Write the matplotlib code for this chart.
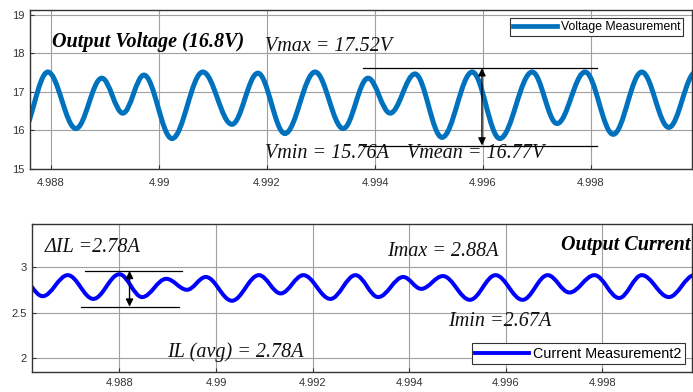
import matplotlib
matplotlib.use("Agg")
import matplotlib.pyplot as plt
from matplotlib.path import Path
from matplotlib.patches import PathPatch
from matplotlib.lines import Line2D

# ---- data: extrema of the voltage waveform (time s, volts) ----
v_time = [4.98744, 4.98794, 4.98846, 4.98894, 4.98933, 4.98972, 4.99024, 4.99081,
          4.99135, 4.99183, 4.99233, 4.99289, 4.99341, 4.99387, 4.99428, 4.99474,
          4.99524, 4.99580, 4.99631, 4.99691, 4.99737, 4.99789, 4.99841, 4.99894,
          4.99944, 4.99994]
v_vals = [15.90, 17.52, 16.05, 17.36, 16.45, 17.44, 15.79, 17.52,
          16.16, 17.49, 15.92, 17.52, 16.05, 17.36, 16.45, 17.47,
          15.82, 17.52, 15.79, 17.52, 16.18, 17.52, 15.90, 17.52,
          16.08, 17.52]

# ---- data: extrema of the current waveform (time s, amps) ----
i_time = [4.98594, 4.98641, 4.98693, 4.98746, 4.98800, 4.98847, 4.98897, 4.98940,
          4.98979, 4.99033, 4.99089, 4.99134, 4.99181, 4.99237, 4.99289, 4.99336,
          4.99388, 4.99425, 4.99470, 4.99526, 4.99579, 4.99635, 4.99687, 4.99732,
          4.99784, 4.99835, 4.99882, 4.99938, 4.99991]
i_vals = [2.90, 2.68, 2.91, 2.65, 2.92, 2.67, 2.87, 2.75,
          2.89, 2.63, 2.91, 2.71, 2.91, 2.65, 2.91, 2.67,
          2.89, 2.76, 2.90, 2.64, 2.91, 2.64, 2.91, 2.72,
          2.91, 2.66, 2.91, 2.67, 2.91]

x_ticks = [4.988, 4.990, 4.992, 4.994, 4.996, 4.998]
x_ticklabels = ["4.988", "4.99", "4.992", "4.994", "4.996", "4.998"]
v_yticks = [15, 16, 17, 18, 19]
i_yticks = [2, 2.5, 3]
i_yticklabels = ["2", "2.5", "3"]

# annotation guide values
v_guide_hi, v_guide_lo = 17.62, 15.61
v_guide_t = (4.99378, 4.99811)
v_arrow_t = 4.99598
i_guide_hi, i_guide_lo = 2.957, 2.565
i_guide_t_hi = (4.98728, 4.98930)
i_guide_t_lo = (4.98720, 4.98924)
i_arrow_t = 4.98821

V_COLOR = "#0072BD"
I_COLOR = "#0000FF"


def smooth_path(t, v, k=0.36):
    verts = [(t[0], v[0])]
    codes = [Path.MOVETO]
    for a in range(len(t) - 1):
        dt = t[a + 1] - t[a]
        verts += [(t[a] + k * dt, v[a]), (t[a + 1] - k * dt, v[a + 1]), (t[a + 1], v[a + 1])]
        codes += [Path.CURVE4] * 3
    return Path(verts, codes)


plt.rcParams["font.family"] = ["Liberation Sans", "DejaVu Sans"]
fig = plt.figure(figsize=(6.93, 3.92), dpi=100)

serif = ["Liberation Serif", "DejaVu Serif"]
FS = 14.5


def style_axes(ax, pad):
    ax.grid(True, color="#a0a0a0", lw=0.8)
    ax.set_axisbelow(True)
    for s in ax.spines.values():
        s.set_color("#333333")
        s.set_linewidth(1.0)
    ax.tick_params(direction="in", length=3, labelsize=8, colors="#333333", pad=4)
    ax.tick_params(axis="x", pad=pad)
    ax.set_xticks(x_ticks)
    ax.set_xticklabels(x_ticklabels)


# ---- top: voltage ----
ax1 = fig.add_axes([0.0433, 0.5689, 0.9553, 0.4056])
ax1.set_xlim(4.98761, 4.99987)
ax1.set_ylim(15, 19.13)
style_axes(ax1, 6.5)
ax1.set_yticks(v_yticks)
ax1.add_patch(PathPatch(smooth_path(v_time, v_vals), fill=False, edgecolor=V_COLOR,
                        lw=3.6, capstyle="round", joinstyle="round"))
leg1 = ax1.legend(handles=[Line2D([], [], color=V_COLOR, lw=3.4, label="Voltage Measurement")],
                  loc="upper right", bbox_to_anchor=(0.9865, 0.95), borderaxespad=0,
                  fancybox=False, edgecolor="#333333", framealpha=1, fontsize=8.8,
                  handlelength=3.6, borderpad=0.25, handletextpad=0.25)
leg1.get_frame().set_linewidth(0.8)

ax1.text(4.98802, 18.30, "Output Voltage (16.8V)", family=serif, style="italic",
         weight="bold", fontsize=FS, va="center", ha="left")
ax1.text(4.99196, 18.17, "Vmax = 17.52V", family=serif, style="italic",
         fontsize=FS, va="center", ha="left", color="#111111")
ax1.text(4.99196, 15.40, "Vmin = 15.76A", family=serif, style="italic",
         fontsize=FS, va="center", ha="left", color="#111111")
ax1.text(4.99459, 15.40, "Vmean = 16.77V", family=serif, style="italic",
         fontsize=FS, va="center", ha="left", color="#111111")
ax1.plot(v_guide_t, [v_guide_hi, v_guide_hi], color="k", lw=0.9)
ax1.plot(v_guide_t, [v_guide_lo, v_guide_lo], color="k", lw=0.9)
ax1.annotate("", xy=(v_arrow_t, v_guide_hi), xytext=(v_arrow_t, v_guide_lo),
             arrowprops=dict(arrowstyle="<|-|>", color="k", lw=1.0,
                             mutation_scale=11, shrinkA=0, shrinkB=0))

# ---- bottom: current ----
ax2 = fig.add_axes([0.0462, 0.0510, 0.9524, 0.3776])
ax2.set_xlim(4.98619, 4.99986)
ax2.set_ylim(1.85, 3.47)
style_axes(ax2, 4.5)
ax2.set_yticks(i_yticks)
ax2.set_yticklabels(i_yticklabels)
ax2.add_patch(PathPatch(smooth_path(i_time, i_vals), fill=False, edgecolor=I_COLOR,
                        lw=2.9, capstyle="round", joinstyle="round"))
leg2 = ax2.legend(handles=[Line2D([], [], color=I_COLOR, lw=2.8, label="Current Measurement2")],
                  loc="upper right", bbox_to_anchor=(0.9894, 0.196), borderaxespad=0,
                  fancybox=False, edgecolor="#333333", framealpha=1, fontsize=10.4,
                  handlelength=3.7, borderpad=0.25, handletextpad=0.3)
leg2.get_frame().set_linewidth(0.8)

ax2.text(4.98645, 3.217, "\u0394IL =2.78A", family=serif, style="italic",
         fontsize=FS, va="center", ha="left", color="#111111")
ax2.text(4.98899, 2.065, "IL (avg) = 2.78A", family=serif, style="italic",
         fontsize=FS, va="center", ha="left", color="#111111")
ax2.text(4.99355, 3.174, "Imax = 2.88A", family=serif, style="italic",
         fontsize=FS, va="center", ha="left", color="#111111")
ax2.text(4.99480, 2.402, "Imin =2.67A", family=serif, style="italic",
         fontsize=FS, va="center", ha="left", color="#111111")
ax2.text(4.99715, 3.239, "Output Current", family=serif, style="italic",
         weight="bold", fontsize=FS, va="center", ha="left", clip_on=True)
ax2.plot(i_guide_t_hi, [i_guide_hi, i_guide_hi], color="k", lw=0.9)
ax2.plot(i_guide_t_lo, [i_guide_lo, i_guide_lo], color="k", lw=0.9)
ax2.annotate("", xy=(i_arrow_t, i_guide_hi), xytext=(i_arrow_t, i_guide_lo),
             arrowprops=dict(arrowstyle="<|-|>", color="k", lw=1.0,
                             mutation_scale=11, shrinkA=0, shrinkB=0))

fig.savefig("out.png", dpi=100)
